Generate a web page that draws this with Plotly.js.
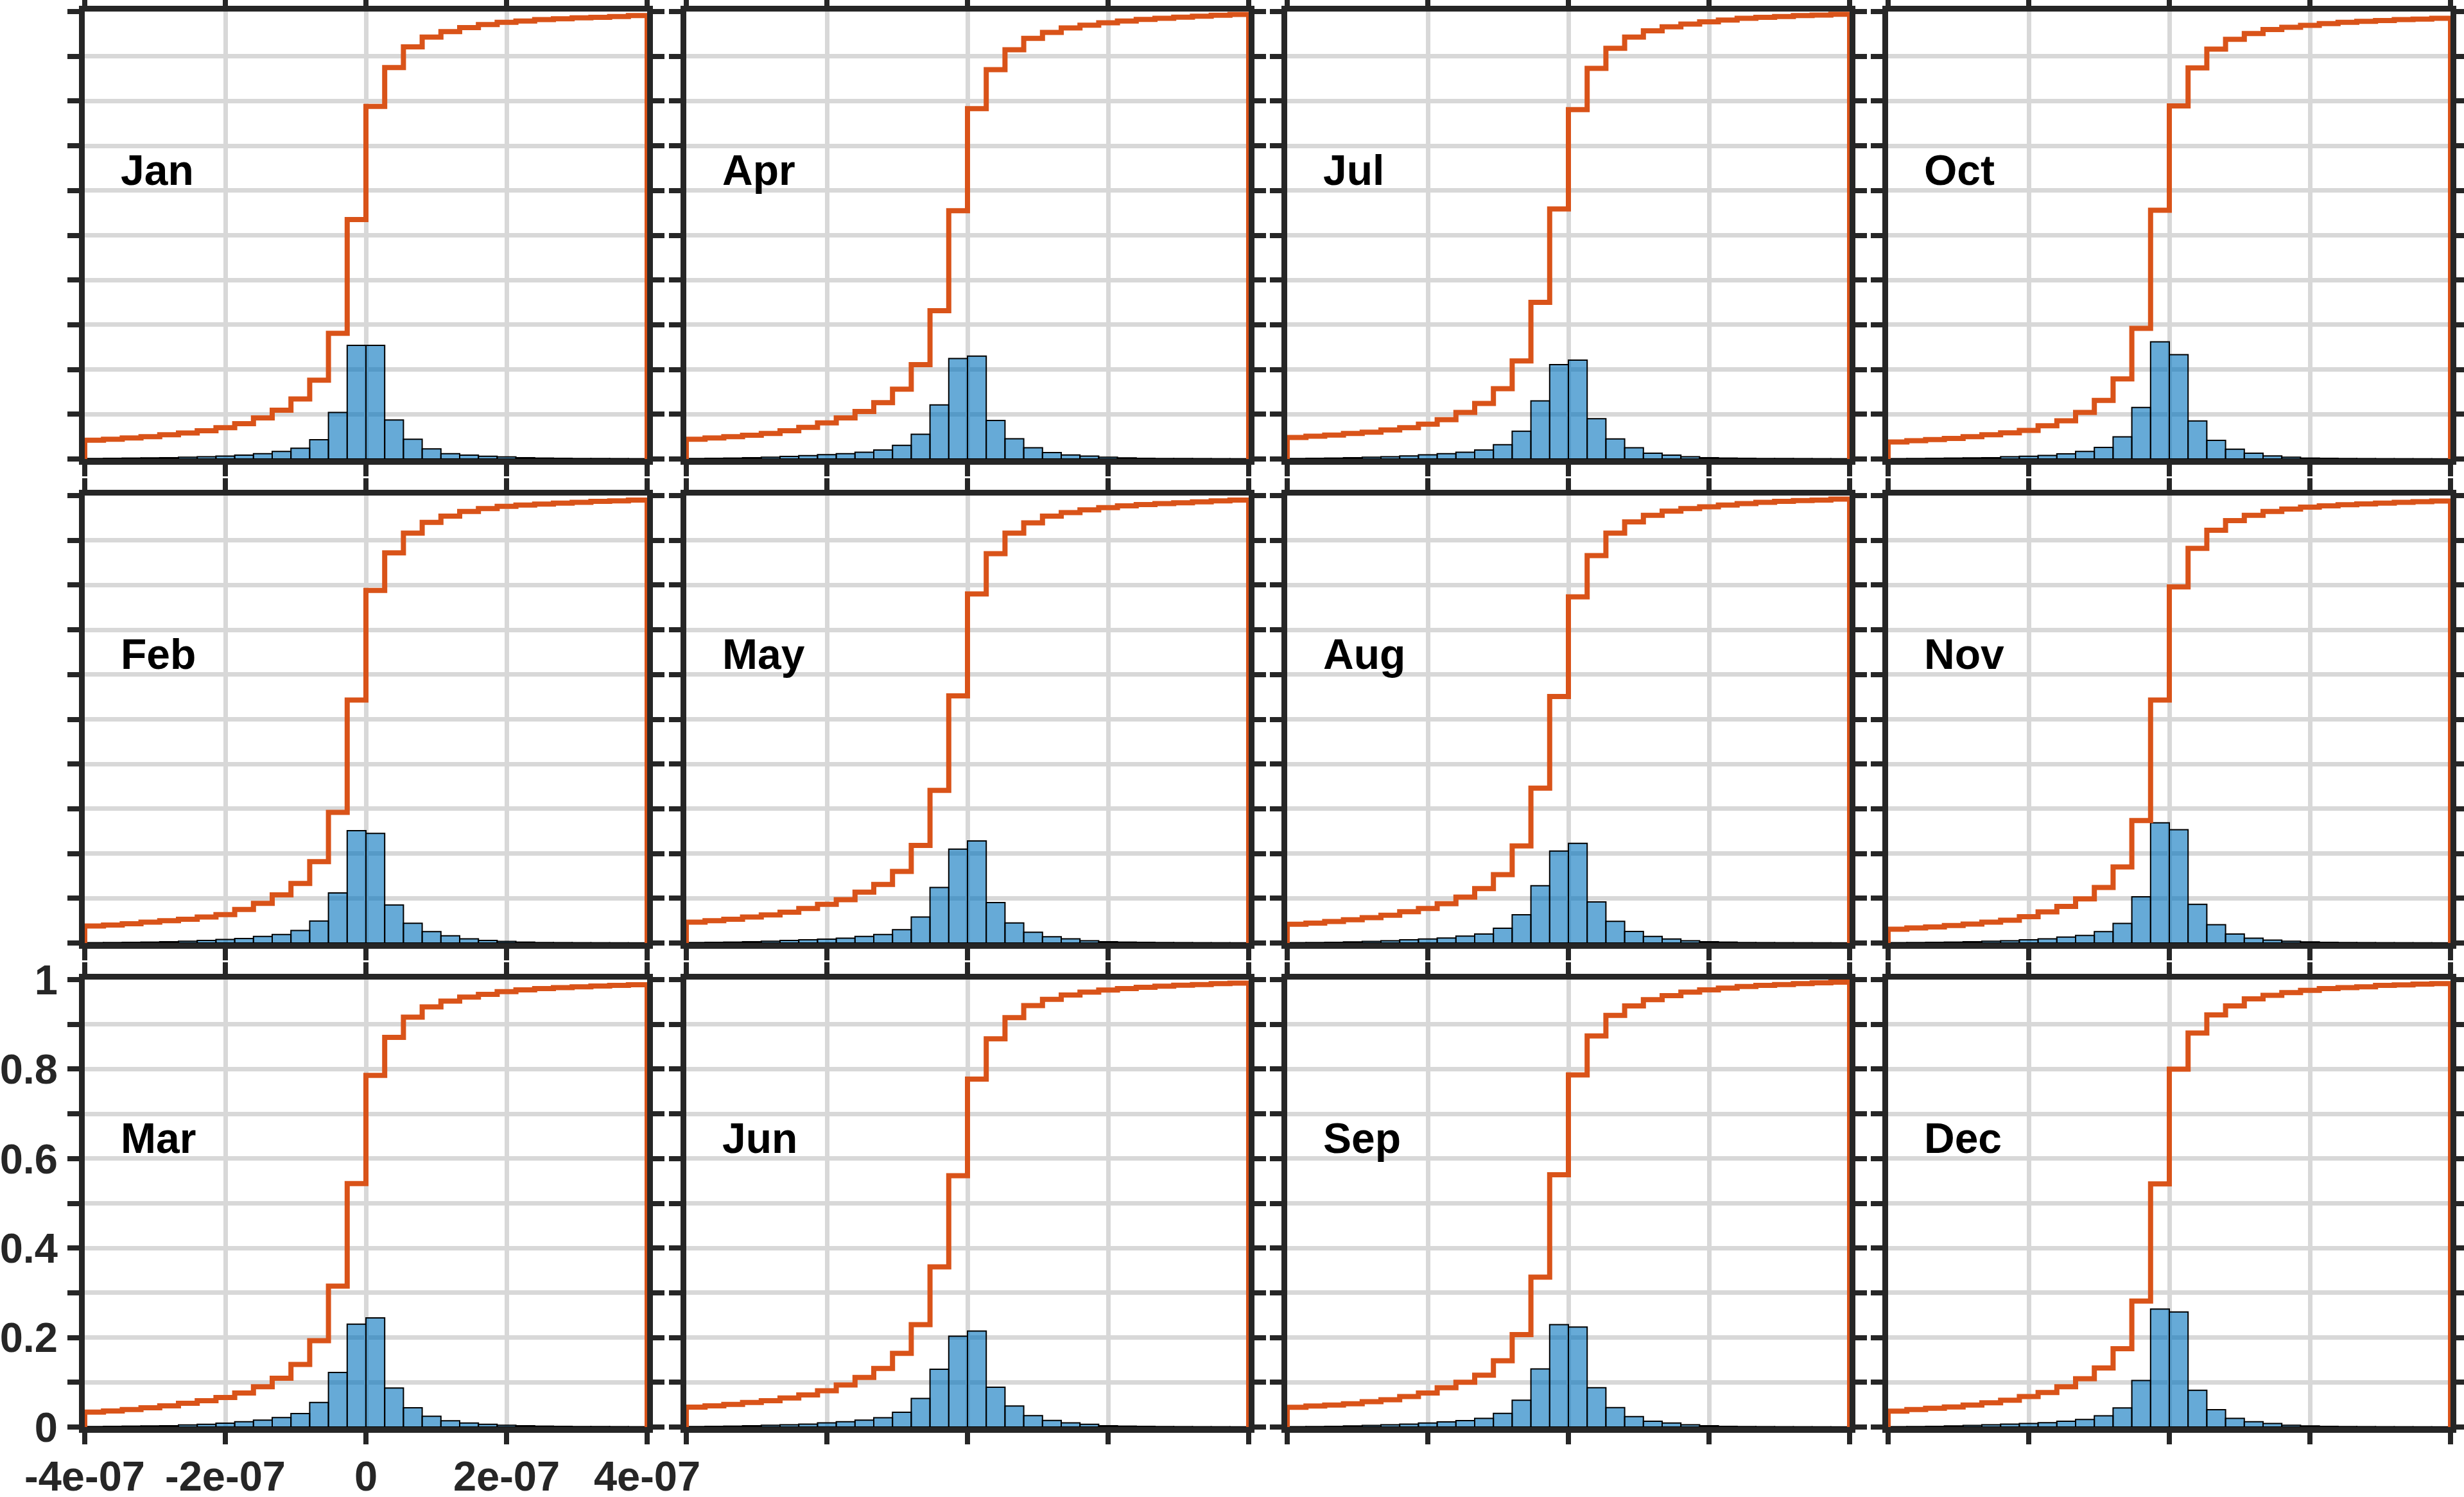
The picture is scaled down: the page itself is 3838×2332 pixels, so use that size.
<!DOCTYPE html>
<html>
<head>
<meta charset="utf-8">
<script src="https://cdn.plot.ly/plotly-3.0.1.min.js"></script>
<style>
  html, body { margin: 0; padding: 0; background: #ffffff; }
  #chart { width: 3838px; height: 2332px; }
</style>
</head>
<body>
<div id="chart"></div>
<script>
// Monthly distributions: normalised histogram (probability per bin) and its CDF.
const months = ['Jan', 'Feb', 'Mar', 'Apr', 'May', 'Jun',
                'Jul', 'Aug', 'Sep', 'Oct', 'Nov', 'Dec'];

// Bin layout shared by every panel
const binLimits = [-4e-7, 4e-7];
const numBins = 30;

// Axis ticks
const xTickVals = [-4e-7, -2e-7, 0, 2e-7, 4e-7];
const xTickText = ['-4e-07', '-2e-07', '0', '2e-07', '4e-07'];
const yTickVals = [0, 0.1, 0.2, 0.3, 0.4, 0.5, 0.6, 0.7, 0.8, 0.9, 1];
const yTickText = ['0', '', '0.2', '', '0.4', '', '0.6', '', '0.8', '', '1'];

// Histogram bar heights (probability per bin)
const histJan = [0.001, 0.0015, 0.002, 0.0025, 0.003, 0.004, 0.005, 0.0065, 0.0087, 0.012, 0.0168, 0.024, 0.043, 0.104, 0.254, 0.254, 0.087, 0.044, 0.0225, 0.012, 0.0087, 0.0062, 0.0045, 0.003, 0.002, 0.0015, 0.001, 0.001, 0.0008, 0.0006];
const histFeb = [0.0007, 0.001, 0.0015, 0.002, 0.003, 0.004, 0.0058, 0.0079, 0.0099, 0.0146, 0.019, 0.028, 0.049, 0.112, 0.251, 0.245, 0.085, 0.044, 0.0255, 0.016, 0.0092, 0.0058, 0.0035, 0.002, 0.001, 0.0008, 0.0006, 0.0005, 0.0004, 0.0003];
const histMar = [0.001, 0.0015, 0.002, 0.0025, 0.003, 0.0047, 0.006, 0.0086, 0.012, 0.0156, 0.021, 0.030, 0.055, 0.122, 0.230, 0.244, 0.087, 0.043, 0.024, 0.014, 0.009, 0.006, 0.004, 0.003, 0.002, 0.0015, 0.001, 0.001, 0.0008, 0.0006];
const histApr = [0.001, 0.0015, 0.002, 0.003, 0.004, 0.0057, 0.0077, 0.0097, 0.0117, 0.015, 0.020, 0.0304, 0.0552, 0.1207, 0.2244, 0.2298, 0.086, 0.0452, 0.025, 0.0144, 0.009, 0.0064, 0.004, 0.0025, 0.0015, 0.001, 0.001, 0.0008, 0.0006, 0.0005];
const histMay = [0.001, 0.0015, 0.002, 0.003, 0.004, 0.0058, 0.007, 0.0085, 0.0106, 0.0146, 0.019, 0.0296, 0.058, 0.124, 0.210, 0.228, 0.0905, 0.045, 0.024, 0.014, 0.0092, 0.005, 0.003, 0.002, 0.0015, 0.001, 0.0008, 0.0006, 0.0005, 0.0004];
const histJun = [0.001, 0.0015, 0.002, 0.003, 0.004, 0.005, 0.0066, 0.0093, 0.012, 0.0154, 0.0208, 0.033, 0.064, 0.129, 0.2029, 0.2144, 0.089, 0.047, 0.0256, 0.0147, 0.0093, 0.006, 0.003, 0.002, 0.0015, 0.001, 0.0008, 0.0006, 0.0005, 0.0004];
const histJul = [0.001, 0.0015, 0.002, 0.003, 0.004, 0.005, 0.0067, 0.0094, 0.012, 0.015, 0.020, 0.032, 0.062, 0.130, 0.211, 0.221, 0.090, 0.045, 0.025, 0.013, 0.0087, 0.005, 0.003, 0.002, 0.0015, 0.001, 0.001, 0.0008, 0.0006, 0.0005];
const histAug = [0.0007, 0.001, 0.0015, 0.0025, 0.0035, 0.005, 0.007, 0.009, 0.011, 0.0153, 0.020, 0.033, 0.063, 0.128, 0.2057, 0.2226, 0.092, 0.0485, 0.026, 0.0146, 0.009, 0.005, 0.003, 0.002, 0.001, 0.0008, 0.0006, 0.0005, 0.0004, 0.0003];
const histSep = [0.0007, 0.001, 0.0015, 0.0025, 0.0035, 0.005, 0.0065, 0.0089, 0.0113, 0.0145, 0.0194, 0.0306, 0.060, 0.130, 0.229, 0.2234, 0.088, 0.0435, 0.0234, 0.013, 0.0089, 0.005, 0.003, 0.0015, 0.001, 0.0008, 0.0006, 0.0005, 0.0004, 0.0003];
const histOct = [0.0007, 0.001, 0.0015, 0.002, 0.0025, 0.003, 0.005, 0.006, 0.008, 0.0114, 0.0167, 0.026, 0.0495, 0.115, 0.262, 0.233, 0.085, 0.0415, 0.022, 0.013, 0.0067, 0.004, 0.002, 0.0015, 0.001, 0.0008, 0.0006, 0.0005, 0.0004, 0.0003];
const histNov = [0.0007, 0.001, 0.0015, 0.002, 0.003, 0.004, 0.005, 0.0072, 0.0092, 0.0133, 0.017, 0.0255, 0.0438, 0.1034, 0.2687, 0.2531, 0.0864, 0.041, 0.020, 0.0106, 0.0065, 0.004, 0.0025, 0.0015, 0.001, 0.0008, 0.0006, 0.0005, 0.0004, 0.0003];
const histDec = [0.0007, 0.001, 0.0015, 0.0025, 0.0035, 0.005, 0.0065, 0.008, 0.0097, 0.013, 0.017, 0.025, 0.0427, 0.104, 0.2637, 0.2573, 0.082, 0.0387, 0.0194, 0.012, 0.008, 0.004, 0.0025, 0.0015, 0.001, 0.0008, 0.0006, 0.0005, 0.0004, 0.0003];

// Cumulative distribution, one value per bin
const cdfJan = [0.042, 0.044, 0.047, 0.050, 0.054, 0.058, 0.063, 0.070, 0.079, 0.092, 0.109, 0.134, 0.176, 0.281, 0.535, 0.788, 0.875, 0.921, 0.943, 0.955, 0.964, 0.971, 0.976, 0.979, 0.982, 0.984, 0.986, 0.987, 0.989, 0.991];
const cdfFeb = [0.038, 0.040, 0.043, 0.0465, 0.050, 0.053, 0.058, 0.0634, 0.075, 0.0885, 0.1075, 0.133, 0.182, 0.292, 0.543, 0.788, 0.872, 0.916, 0.940, 0.954, 0.9645, 0.971, 0.976, 0.979, 0.981, 0.983, 0.985, 0.987, 0.988, 0.990];
const cdfMar = [0.0335, 0.036, 0.039, 0.043, 0.0475, 0.053, 0.059, 0.066, 0.076, 0.090, 0.109, 0.140, 0.193, 0.315, 0.544, 0.786, 0.871, 0.916, 0.939, 0.952, 0.961, 0.967, 0.973, 0.977, 0.980, 0.982, 0.984, 0.9855, 0.987, 0.9885];
const cdfApr = [0.044, 0.047, 0.050, 0.053, 0.057, 0.063, 0.0706, 0.0806, 0.092, 0.106, 0.126, 0.156, 0.211, 0.3314, 0.5549, 0.783, 0.870, 0.9146, 0.940, 0.9535, 0.9635, 0.9696, 0.975, 0.979, 0.9823, 0.985, 0.9876, 0.9896, 0.9916, 0.9936];
const cdfMay = [0.0465, 0.050, 0.053, 0.058, 0.0627, 0.069, 0.077, 0.0864, 0.097, 0.1136, 0.131, 0.160, 0.218, 0.341, 0.5525, 0.780, 0.870, 0.916, 0.939, 0.954, 0.962, 0.968, 0.973, 0.977, 0.980, 0.982, 0.984, 0.986, 0.988, 0.990];
const cdfJun = [0.0445, 0.0472, 0.0506, 0.0547, 0.0587, 0.0648, 0.0716, 0.081, 0.0939, 0.1108, 0.131, 0.1645, 0.229, 0.358, 0.5616, 0.7775, 0.8675, 0.915, 0.942, 0.956, 0.9656, 0.972, 0.9766, 0.980, 0.9827, 0.9854, 0.9875, 0.989, 0.991, 0.9922];
const cdfJul = [0.048, 0.051, 0.0535, 0.057, 0.060, 0.065, 0.070, 0.078, 0.088, 0.104, 0.124, 0.157, 0.219, 0.350, 0.559, 0.781, 0.873, 0.918, 0.943, 0.957, 0.966, 0.972, 0.977, 0.981, 0.985, 0.987, 0.989, 0.991, 0.992, 0.994];
const cdfAug = [0.042, 0.0445, 0.048, 0.052, 0.0566, 0.062, 0.070, 0.077, 0.088, 0.1027, 0.1217, 0.1528, 0.217, 0.346, 0.551, 0.7735, 0.866, 0.916, 0.941, 0.956, 0.9651, 0.971, 0.975, 0.979, 0.982, 0.985, 0.987, 0.989, 0.990, 0.992];
const cdfSep = [0.044, 0.047, 0.049, 0.052, 0.0565, 0.061, 0.068, 0.076, 0.088, 0.100, 0.116, 0.148, 0.2065, 0.335, 0.5637, 0.787, 0.874, 0.920, 0.941, 0.955, 0.964, 0.972, 0.977, 0.981, 0.9847, 0.987, 0.989, 0.9911, 0.9927, 0.9944];
const cdfOct = [0.038, 0.041, 0.0435, 0.046, 0.050, 0.054, 0.0585, 0.064, 0.0743, 0.0853, 0.104, 0.131, 0.179, 0.292, 0.556, 0.789, 0.874, 0.916, 0.938, 0.951, 0.960, 0.965, 0.969, 0.973, 0.976, 0.978, 0.980, 0.982, 0.983, 0.985];
const cdfNov = [0.031, 0.0336, 0.036, 0.039, 0.0424, 0.0465, 0.051, 0.0587, 0.0695, 0.0817, 0.0986, 0.124, 0.170, 0.2735, 0.543, 0.796, 0.882, 0.9225, 0.944, 0.956, 0.9645, 0.970, 0.974, 0.977, 0.9794, 0.9815, 0.983, 0.985, 0.9864, 0.9878];
const cdfDec = [0.0355, 0.039, 0.042, 0.045, 0.049, 0.054, 0.060, 0.068, 0.077, 0.090, 0.108, 0.132, 0.175, 0.2815, 0.5435, 0.800, 0.8806, 0.921, 0.941, 0.957, 0.965, 0.971, 0.976, 0.980, 0.982, 0.984, 0.987, 0.988, 0.990, 0.991];

const histByMonth = [histJan, histFeb, histMar, histApr, histMay, histJun,
                     histJul, histAug, histSep, histOct, histNov, histDec];
const cdfByMonth = [cdfJan, cdfFeb, cdfMar, cdfApr, cdfMay, cdfJun,
                    cdfJul, cdfAug, cdfSep, cdfOct, cdfNov, cdfDec];

// ---- bin geometry ----
const binWidth = (binLimits[1] - binLimits[0]) / numBins;
const edges = [];
for (let k = 0; k <= numBins; k++) edges.push(binLimits[0] + k * binWidth);
const centers = edges.slice(0, numBins).map(e => e + binWidth / 2);

// ---- page geometry (pixels) ----
const W = 3838, H = 2332;
const colLeft = [132, 1069, 2005, 2941];
const panelW = 876;
const rowTop = [18, 772, 1526];
const panelH = 697;

const FONT = 'Liberation Sans, Arial, Helvetica, sans-serif';
const AXIS_COLOR = '#262626';

const traces = [];
const layout = {
  width: W,
  height: H,
  margin: { l: 0, r: 0, t: 0, b: 0 },
  paper_bgcolor: '#ffffff',
  plot_bgcolor: '#ffffff',
  showlegend: false,
  bargap: 0,
  barmode: 'overlay',
  annotations: []
};

months.forEach((name, i) => {
  const col = Math.floor(i / 3);
  const row = i % 3;
  const n = i + 1;
  const xName = n === 1 ? 'x' : 'x' + n;
  const yName = n === 1 ? 'y' : 'y' + n;
  const xKey = n === 1 ? 'xaxis' : 'xaxis' + n;
  const yKey = n === 1 ? 'yaxis' : 'yaxis' + n;
  const labelled = (col === 0 && row === 2);

  const x0 = colLeft[col] / W;
  const x1 = (colLeft[col] + panelW) / W;
  const yTop = 1 - rowTop[row] / H;
  const yBot = 1 - (rowTop[row] + panelH) / H;

  const common = {
    showline: true,
    linewidth: 9,
    linecolor: AXIS_COLOR,
    mirror: 'allticks',
    ticks: 'outside',
    ticklen: 18,
    tickwidth: 8,
    tickcolor: AXIS_COLOR,
    showgrid: true,
    gridcolor: '#d8d8d8',
    gridwidth: 7,
    zeroline: false,
    fixedrange: true,
    tickfont: { family: FONT, size: 65, color: AXIS_COLOR, weight: 'bold' }
  };

  layout[xKey] = Object.assign({}, common, {
    domain: [x0, x1],
    anchor: yName,
    range: binLimits.slice(),
    tickmode: 'array',
    tickvals: xTickVals,
    ticktext: xTickText,
    showticklabels: labelled,
    ticklabelstandoff: -6
  });
  layout[yKey] = Object.assign({}, common, {
    domain: [yBot, yTop],
    anchor: xName,
    range: [0, 1],
    tickmode: 'array',
    tickvals: yTickVals,
    ticktext: yTickText,
    showticklabels: labelled,
    ticklabelstandoff: 2
  });

  // histogram bars
  traces.push({
    type: 'bar',
    x: centers,
    y: histByMonth[i],
    width: binWidth,
    xaxis: xName,
    yaxis: yName,
    marker: {
      color: 'rgba(0,114,189,0.6)',
      line: { color: '#000000', width: 2 }
    },
    hoverinfo: 'skip'
  });

  // CDF drawn as stairs outline
  const cdf = cdfByMonth[i];
  const sx = [edges[0]];
  const sy = [0];
  for (let k = 0; k < numBins; k++) { sx.push(edges[k]); sy.push(cdf[k]); }
  sx.push(edges[numBins]); sy.push(cdf[numBins - 1]);
  sx.push(edges[numBins]); sy.push(0);
  traces.push({
    type: 'scatter',
    mode: 'lines',
    x: sx,
    y: sy,
    xaxis: xName,
    yaxis: yName,
    line: { color: '#D95319', width: 8, shape: 'hv' },
    hoverinfo: 'skip'
  });

  layout.annotations.push({
    text: name,
    xref: xName,
    yref: yName,
    x: -3.5e-7,
    y: 0.645,
    xanchor: 'left',
    yanchor: 'middle',
    showarrow: false,
    borderpad: 0,
    font: { family: FONT, size: 66, color: '#000000', weight: 'bold' }
  });
});

Plotly.newPlot('chart', traces, layout, { staticPlot: true, displayModeBar: false });
</script>
</body>
</html>
